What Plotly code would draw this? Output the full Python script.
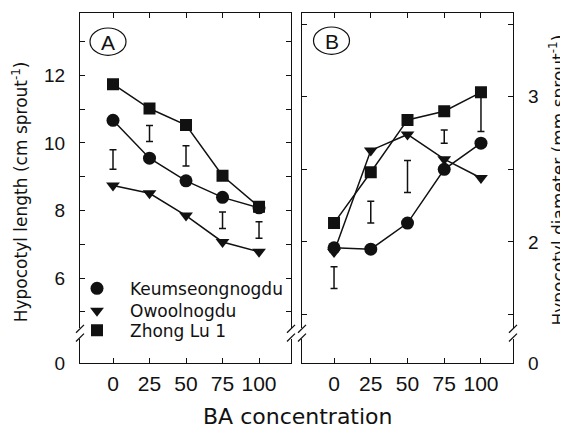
import plotly.graph_objects as go

# ---------------- data ----------------
conc = [0, 25, 50, 75, 100]
conc_ticks = ["0", "25", "50", "75", "100"]

# Panel A: hypocotyl length (cm sprout-1)
len_keum = [10.67, 9.55, 8.88, 8.39, 8.08]
len_owool = [8.74, 8.51, 7.85, 7.07, 6.78]
len_zhong = [11.74, 11.02, 10.53, 9.03, 8.11]
len_lsd_low = [9.22, 10.04, 9.32, 7.47, 7.18]
len_lsd_high = [9.80, 10.52, 9.92, 7.96, 7.67]

# Panel B: hypocotyl diameter (mm sprout-1)
dia_keum = [1.96, 1.95, 2.13, 2.50, 2.68]
dia_owool = [1.93, 2.63, 2.74, 2.57, 2.44]
dia_zhong = [2.13, 2.48, 2.84, 2.90, 3.03]
dia_lsd_low = [1.68, 2.13, 2.34, 2.68, 2.76]
dia_lsd_high = [1.83, 2.28, 2.56, 2.77, 3.00]

series_names = ["Keumseongnogdu", "Owoolnogdu", "Zhong Lu 1"]
symbols = ["circle", "triangle-down", "square"]
sizes = [13, 12, 12]

A_major = [6, 8, 10, 12]
A_minor = [5, 7, 9, 11, 13]
B_major = [2, 3]
B_minor = [1.5, 2.5, 3.5]

# ---------------- geometry (screen px -> paper) ----------------
W, H = 568, 440
OFF = 8  # page body margin
def px(x):
    return (x - OFF) / W
def py(y):
    return 1 - (y - OFF) / H

A_x = [80, 291]
B_x = [302, 513]
up_y = [13, 336]
lo_y = [347, 372]

FONT = "DejaVu Sans"
ARIAL = "Liberation Sans, Arial"
black = "#111111"

fig = go.Figure()

def add_series(xa, ya, data_list):
    for name, sym, sz, vals in zip(series_names, symbols, sizes, data_list):
        fig.add_trace(go.Scatter(
            x=conc, y=vals, mode="lines+markers", name=name,
            xaxis=xa, yaxis=ya, showlegend=False,
            line=dict(color=black, width=1.5),
            marker=dict(symbol=sym, size=sz, color=black),
        ))

def add_lsd(xa, ya, low, high):
    center = [(a + b) / 2 for a, b in zip(low, high)]
    half = [(b - a) / 2 for a, b in zip(low, high)]
    fig.add_trace(go.Scatter(
        x=conc, y=center, mode="markers", xaxis=xa, yaxis=ya,
        showlegend=False, marker=dict(size=0.1, color="rgba(0,0,0,0)"),
        error_y=dict(type="data", array=half, visible=True, color=black,
                     thickness=1.5, width=3.5),
        hoverinfo="skip",
    ))

add_lsd("x", "y", len_lsd_low, len_lsd_high)
add_series("x", "y", [len_keum, len_owool, len_zhong])
add_lsd("x3", "y3", dia_lsd_low, dia_lsd_high)
add_series("x3", "y3", [dia_keum, dia_owool, dia_zhong])

# empty traces for lower segments
for xa, ya in [("x2", "y2"), ("x4", "y4")]:
    fig.add_trace(go.Scatter(x=[None], y=[None], xaxis=xa, yaxis=ya,
                             showlegend=False, hoverinfo="skip"))

# legend-only traces, one legend per row
legend_ids = ["legend", "legend2", "legend3"]
for name, sym, sz, lg in zip(series_names, symbols, sizes, legend_ids):
    fig.add_trace(go.Scatter(x=[None], y=[None], mode="markers", name=name,
                             xaxis="x", yaxis="y", legend=lg, showlegend=True,
                             marker=dict(symbol=sym, size=sz, color=black)))

tickfont_y = dict(family=ARIAL, size=19, color=black)
tickfont_x = dict(family=ARIAL, size=21, color=black)

common = dict(showline=True, linecolor=black, linewidth=1.3, ticks="inside",
              ticklen=5, tickwidth=1.2, tickcolor=black, showgrid=False,
              zeroline=False, fixedrange=True)

def minor(vals):
    return dict(tickvals=vals, ticks="inside", ticklen=5, tickwidth=1.2,
                tickcolor=black, showgrid=False)

A_xrange = [-22.6, 121.9]
B_xrange = [-21.8, 121.8]
A_up_range = [4.53, 13.85]
B_up_range = [1.409, 3.577]

layout_axes = dict(
    # A upper
    xaxis=dict(domain=[px(A_x[0]), px(A_x[1])], anchor="y", range=A_xrange,
               side="top", tickvals=conc, showticklabels=False, **common),
    yaxis=dict(domain=[py(up_y[1]), py(up_y[0])], anchor="x", range=A_up_range,
               tickvals=A_major, minor=minor(A_minor), mirror="allticks",
               tickfont=tickfont_y, ticklabelstandoff=10, **common),
    # A lower
    xaxis2=dict(domain=[px(A_x[0]), px(A_x[1])], anchor="y2", range=A_xrange,
                side="bottom", tickvals=conc, ticktext=conc_ticks,
                tickfont=tickfont_x, ticklabelstandoff=2, **common),
    yaxis2=dict(domain=[py(lo_y[1]), py(lo_y[0])], anchor="x2", range=[0, 0.72],
                tickvals=[0], ticktext=["0"], mirror=True,
                tickfont=tickfont_y, ticklabelstandoff=10, **common),
    # B upper
    xaxis3=dict(domain=[px(B_x[0]), px(B_x[1])], anchor="y3", range=B_xrange,
                side="top", tickvals=conc, showticklabels=False, **common),
    yaxis3=dict(domain=[py(up_y[1]), py(up_y[0])], anchor="x3", range=B_up_range,
                side="right", tickvals=B_major, minor=minor(B_minor),
                mirror="allticks", tickfont=tickfont_y, ticklabelstandoff=10,
                **common),
    # B lower
    xaxis4=dict(domain=[px(B_x[0]), px(B_x[1])], anchor="y4", range=B_xrange,
                side="bottom", tickvals=conc, ticktext=conc_ticks,
                tickfont=tickfont_x, ticklabelstandoff=2, **common),
    yaxis4=dict(domain=[py(lo_y[1]), py(lo_y[0])], anchor="x4", range=[0, 0.168],
                side="right", tickvals=[0], ticktext=["0"], mirror=True,
                tickfont=tickfont_y, ticklabelstandoff=10, **common),
)

shapes = []
# axis break marks
for xv in [A_x[0], A_x[1], B_x[0], B_x[1]]:
    for yc in [up_y[1] + 1, lo_y[0] - 1]:
        shapes.append(dict(type="line", xref="paper", yref="paper",
                           x0=px(xv - 4), y0=py(yc + 4), x1=px(xv + 4), y1=py(yc - 4),
                           line=dict(color=black, width=1.3)))
# panel label ellipses
for cx, cy in [(108, 42.5), (331.5, 41.5)]:
    shapes.append(dict(type="circle", xref="paper", yref="paper",
                       x0=px(cx - 18), x1=px(cx + 18), y0=py(cy + 14), y1=py(cy - 14),
                       line=dict(color=black, width=1.2)))

def ann(text, x, y, size, family=FONT, angle=0):
    return dict(text=text, x=px(x), y=py(y), xref="paper", yref="paper",
                xanchor="center", yanchor="middle", showarrow=False,
                textangle=angle, font=dict(family=family, size=size, color=black))

annotations = [
    ann("A", 108, 43, 21, ARIAL),
    ann("B", 331.5, 42, 21, ARIAL),
    ann("Hypocotyl length (cm sprout<sup>-1</sup>)", 20, 197, 17, angle=-90),
    ann("Hypocotyl diameter (mm sprout<sup>-1</sup>)", 557, 185, 17, angle=-90),
    ann("BA concentration", 298, 427, 22),
]

legend_rows = [296, 319, 339]
legend_common = dict(xanchor="left", yanchor="middle", bgcolor="rgba(0,0,0,0)",
                     font=dict(family=FONT, size=17, color=black),
                     itemwidth=56, borderwidth=0)

fig.update_layout(
    width=W, height=H, margin=dict(l=0, r=0, t=0, b=0),
    paper_bgcolor="white", plot_bgcolor="white",
    showlegend=True,
    legend=dict(x=px(64), y=py(legend_rows[0]), **legend_common),
    legend2=dict(x=px(64), y=py(legend_rows[1]), **legend_common),
    legend3=dict(x=px(64), y=py(legend_rows[2]), **legend_common),
    shapes=shapes, annotations=annotations,
    **layout_axes,
)

fig.write_html("out.html")
